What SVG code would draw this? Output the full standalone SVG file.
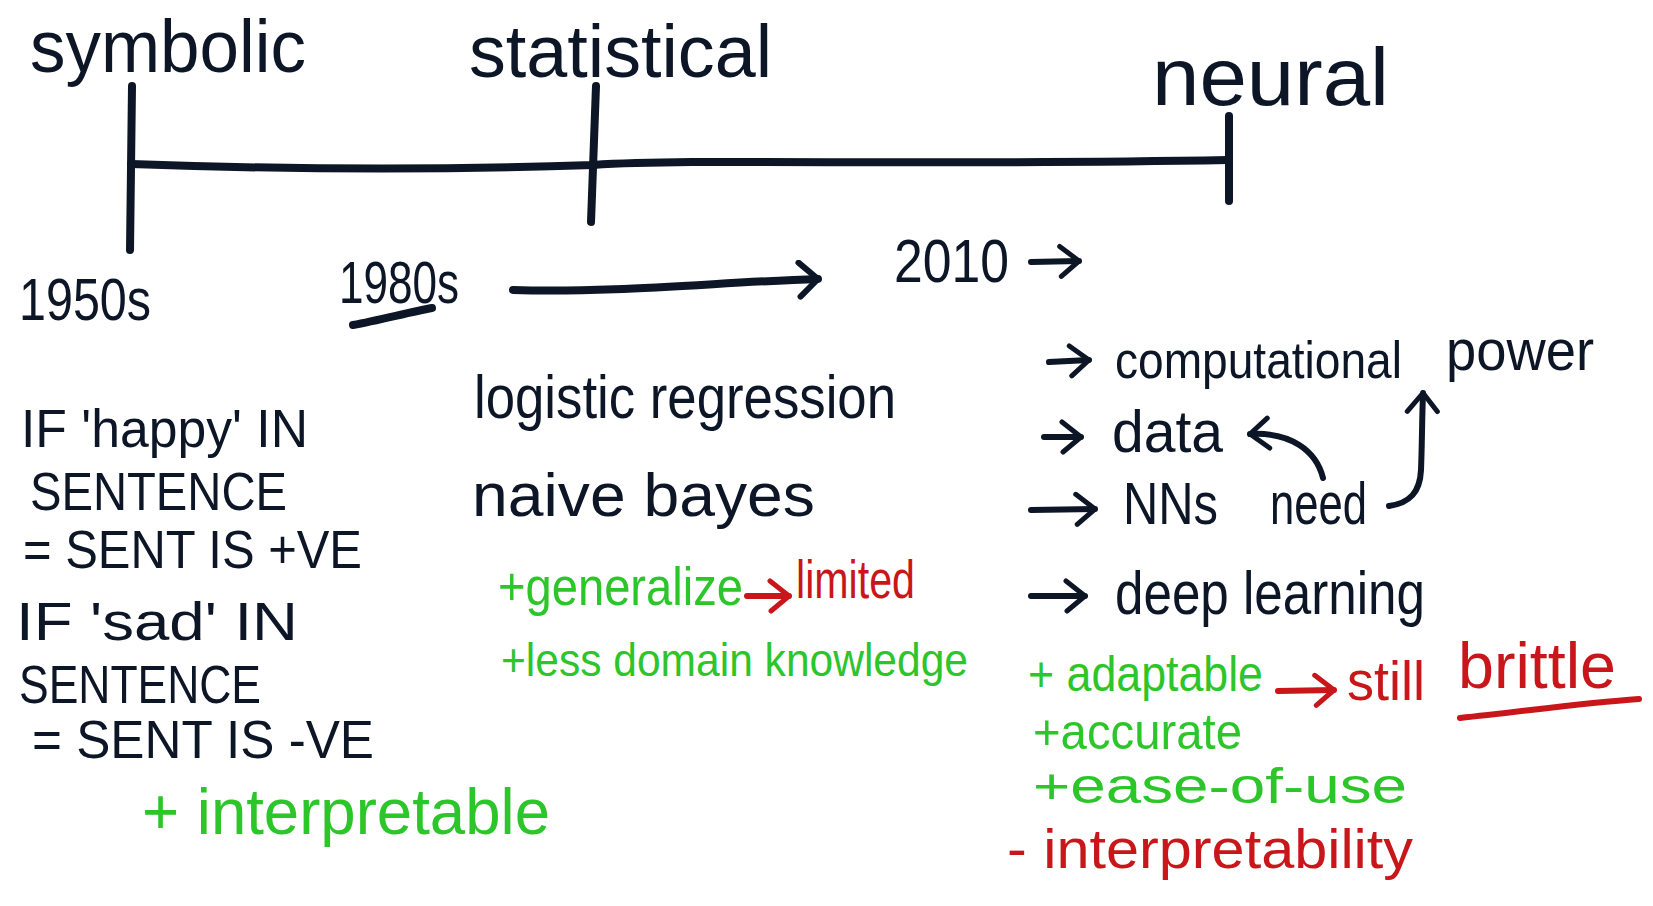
<svg xmlns="http://www.w3.org/2000/svg" width="1653" height="906" viewBox="0 0 1653 906">
<defs>
<style>
text{font-family:"Liberation Sans","Open Sans",sans-serif;}
.k{fill:#0d1626;}
.g{fill:#2cc52a;}
.r{fill:#c8161a;}
.ln{fill:none;stroke:#0d1626;stroke-width:8;stroke-linecap:round;stroke-linejoin:round;}
.lr{fill:none;stroke:#c8161a;stroke-width:6;stroke-linecap:round;stroke-linejoin:round;}
.lk{fill:none;stroke:#0d1626;stroke-width:6;stroke-linecap:round;stroke-linejoin:round;}
</style>
<marker id="ak" viewBox="0 0 26 36" refX="22" refY="18" markerWidth="26" markerHeight="36" markerUnits="userSpaceOnUse" orient="auto">
<path d="M3,3 L22,18 L4,33" fill="none" stroke="#0d1626" stroke-width="5" stroke-linecap="round" stroke-linejoin="round"/>
</marker>
<marker id="akb" viewBox="0 0 26 40" refX="22" refY="20" markerWidth="26" markerHeight="40" markerUnits="userSpaceOnUse" orient="auto">
<path d="M3,3 L22,20 L4,37" fill="none" stroke="#0d1626" stroke-width="6" stroke-linecap="round" stroke-linejoin="round"/>
</marker>
<marker id="ar" viewBox="0 0 26 36" refX="22" refY="18" markerWidth="26" markerHeight="36" markerUnits="userSpaceOnUse" orient="auto">
<path d="M3,3 L22,18 L4,33" fill="none" stroke="#c8161a" stroke-width="5" stroke-linecap="round" stroke-linejoin="round"/>
</marker>
</defs>
<rect width="1653" height="906" fill="#ffffff"/>

<g id="connectors">
<path class="ln" d="M131,164 C300,170 450,170 593,165 C700,158 900,166 1228,160"/>
<path class="ln" d="M132,86 L130,250"/>
<path class="ln" d="M596,86 L591,222"/>
<path class="ln" d="M1229,116 L1229,201"/>
<path class="ln" d="M353,325 C380,320 410,312 432,308"/>
<path class="ln" d="M513,290 C620,293 720,282 818,279" marker-end="url(#akb)"/>
<path class="lk" d="M1031,262 L1079,261" marker-end="url(#ak)"/>
<path class="lk" d="M1049,362 L1089,360" marker-end="url(#ak)"/>
<path class="lk" d="M1044,437 L1081,437" marker-end="url(#ak)"/>
<path class="lk" d="M1031,510 L1095,509" marker-end="url(#ak)"/>
<path class="lk" d="M1031,596 L1085,596" marker-end="url(#ak)"/>
<path class="lk" d="M1323,478 C1316,450 1290,432 1250,434" marker-end="url(#ak)"/>
<path class="lk" d="M1389,506 C1410,503 1420,492 1421,470 C1422,445 1422,420 1423,393" marker-end="url(#ak)"/>
<path class="lr" d="M747,596 L789,596" marker-end="url(#ar)"/>
<path class="lr" d="M1278,691 L1334,690" marker-end="url(#ar)"/>
<path class="lr" d="M1460,718 C1520,712 1580,703 1639,699"/>
</g>

<g id="era-symbolic"><text class="k" x="30" y="72" font-size="74" textLength="276" lengthAdjust="spacingAndGlyphs">symbolic</text></g>
<g id="era-statistical"><text class="k" x="469" y="77" font-size="74" textLength="303" lengthAdjust="spacingAndGlyphs">statistical</text></g>
<g id="era-neural"><text class="k" x="1152" y="105" font-size="82" textLength="237" lengthAdjust="spacingAndGlyphs">neural</text></g>

<g id="year-1950s"><text class="k" x="19" y="320" font-size="60" textLength="132" lengthAdjust="spacingAndGlyphs">1950s</text></g>
<g id="year-1980s"><text class="k" x="339" y="303" font-size="60" textLength="120" lengthAdjust="spacingAndGlyphs">1980s</text></g>
<g id="year-2010"><text class="k" x="894" y="282" font-size="62" textLength="115" lengthAdjust="spacingAndGlyphs">2010</text></g>

<g id="symbolic-rules">
<text class="k" x="21" y="447" font-size="54" textLength="287" lengthAdjust="spacingAndGlyphs">IF 'happy' IN</text>
<text class="k" x="30" y="510" font-size="54" textLength="257" lengthAdjust="spacingAndGlyphs">SENTENCE</text>
<text class="k" x="23" y="568" font-size="54" textLength="339" lengthAdjust="spacingAndGlyphs">= SENT IS +VE</text>
<text class="k" x="16" y="640" font-size="54" textLength="282" lengthAdjust="spacingAndGlyphs">IF 'sad' IN</text>
<text class="k" x="19" y="703" font-size="54" textLength="242" lengthAdjust="spacingAndGlyphs">SENTENCE</text>
<text class="k" x="32" y="758" font-size="54" textLength="342" lengthAdjust="spacingAndGlyphs">= SENT IS -VE</text>
</g>
<g id="symbolic-pro"><text class="g" x="142" y="834" font-size="64" textLength="408" lengthAdjust="spacingAndGlyphs">+ interpretable</text></g>

<g id="statistical-methods">
<text class="k" x="474" y="418" font-size="62" textLength="422" lengthAdjust="spacingAndGlyphs">logistic  regression</text>
<text class="k" x="472" y="516" font-size="62" textLength="343" lengthAdjust="spacingAndGlyphs">naive  bayes</text>
</g>
<g id="statistical-pros">
<text class="g" x="498" y="605" font-size="54" textLength="245" lengthAdjust="spacingAndGlyphs">+generalize</text>
<text class="r" x="796" y="598" font-size="54" textLength="119" lengthAdjust="spacingAndGlyphs">limited</text>
<text class="g" x="501" y="676" font-size="47" textLength="467" lengthAdjust="spacingAndGlyphs">+less domain knowledge</text>
</g>

<g id="neural-drivers">
<text class="k" x="1115" y="378" font-size="52" textLength="287" lengthAdjust="spacingAndGlyphs">computational</text>
<text class="k" x="1446" y="370" font-size="58" textLength="148" lengthAdjust="spacingAndGlyphs">power</text>
<text class="k" x="1112" y="452" font-size="60" textLength="111" lengthAdjust="spacingAndGlyphs">data</text>
<text class="k" x="1123" y="524" font-size="60" textLength="95" lengthAdjust="spacingAndGlyphs">NNs</text>
<text class="k" x="1270" y="524" font-size="60" textLength="97" lengthAdjust="spacingAndGlyphs">need</text>
<text class="k" x="1115" y="614" font-size="62" textLength="310" lengthAdjust="spacingAndGlyphs">deep  learning</text>
</g>
<g id="neural-pros">
<text class="g" x="1028" y="691" font-size="50" textLength="235" lengthAdjust="spacingAndGlyphs">+ adaptable</text>
<text class="r" x="1347" y="700" font-size="56" textLength="78" lengthAdjust="spacingAndGlyphs">still</text>
<text class="r" x="1458" y="688" font-size="64" textLength="158" lengthAdjust="spacingAndGlyphs">brittle</text>
<text class="g" x="1033" y="749" font-size="50" textLength="209" lengthAdjust="spacingAndGlyphs">+accurate</text>
<text class="g" x="1033" y="803" font-size="50" textLength="374" lengthAdjust="spacingAndGlyphs">+ease-of-use</text>
<text class="r" x="1007" y="868" font-size="56" textLength="406" lengthAdjust="spacingAndGlyphs">- interpretability</text>
</g>
</svg>
